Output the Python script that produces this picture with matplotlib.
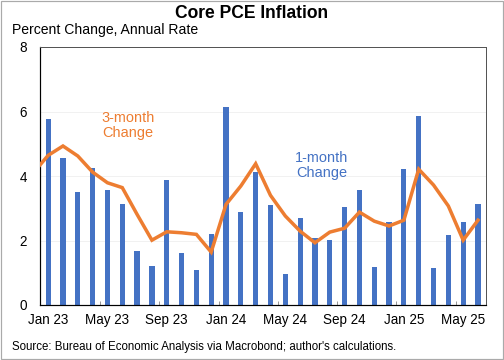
"""
Core PCE inflation: 1-month and 3-month annualized changes
"""
import numpy as np
import matplotlib
matplotlib.use("Agg")
import matplotlib.pyplot as plt
from matplotlib.ticker import FixedLocator

plt.rcParams['font.family'] = ['Liberation Sans', 'DejaVu Sans']

# monthly data, Jan 2023 - Jun 2025
months = ['Jan 23', 'Feb 23', 'Mar 23', 'Apr 23', 'May 23', 'Jun 23', 'Jul 23', 'Aug 23',
          'Sep 23', 'Oct 23', 'Nov 23', 'Dec 23', 'Jan 24', 'Feb 24', 'Mar 24', 'Apr 24',
          'May 24', 'Jun 24', 'Jul 24', 'Aug 24', 'Sep 24', 'Oct 24', 'Nov 24', 'Dec 24',
          'Jan 25', 'Feb 25', 'Mar 25', 'Apr 25', 'May 25', 'Jun 25']
one_month = [5.78, 4.55, 3.51, 4.24, 3.57, 3.13, 1.67, 1.21, 3.89, 1.60, 1.09, 2.19,
             6.14, 2.89, 4.12, 3.10, 0.96, 2.69, 2.08, 2.01, 3.04, 3.57, 1.17, 2.58,
             4.21, 5.86, 1.14, 2.17, 2.58, 3.12]
# 3-month series starts one month earlier (Dec 22), clipped at the left edge
three_month = [4.10, 4.64, 4.93, 4.62, 4.12, 3.79, 3.64, 2.81, 2.01, 2.27, 2.24, 2.19, 1.64,
               3.12, 3.69, 4.38, 3.40, 2.76, 2.29, 1.93, 2.26, 2.38, 2.88, 2.60, 2.45,
               2.63, 4.21, 3.72, 3.07, 2.01, 2.63]
tick_labels = ['Jan 23', 'May 23', 'Sep 23', 'Jan 24', 'May 24', 'Sep 24', 'Jan 25', 'May 25']

blue = '#4472C4'
orange = '#ED7D31'

fig = plt.figure(figsize=(7, 5), dpi=72, facecolor='w')
ax = fig.add_axes([40 / 504, 55 / 360, 446 / 504, 258 / 360])

x = np.arange(len(months))
ax.bar(x, one_month, width=0.35, color=blue, zorder=2)
ax.plot(np.arange(-1, len(months)), three_month, color=orange, lw=3.5,
        solid_joinstyle='miter', zorder=3)

ax.set_xlim(-0.55, len(months) - 0.46)
ax.set_ylim(0, 8)
ax.set_yticks([0, 2, 4, 6, 8])
ax.grid(axis='y', color='#eeeeee', lw=0.8, zorder=0)

ax.set_xticks([months.index(t) for t in tick_labels])
ax.set_xticklabels(tick_labels)
ax.xaxis.set_minor_locator(FixedLocator(np.arange(3.5, len(months), 4)))
ax.tick_params(axis='x', which='major', length=0, pad=8, labelsize=13.5)
ax.tick_params(axis='x', which='minor', length=4, direction='in', color='#555555')
ax.tick_params(axis='y', length=0, pad=13, labelsize=13.5)

for side in ['left', 'bottom']:
    ax.spines[side].set_color('black')
    ax.spines[side].set_linewidth(1.2)
for side in ['top', 'right']:
    ax.spines[side].set_color('#555555')
    ax.spines[side].set_linewidth(1.0)

ax.text(5.4, 5.57, '3-month\nChange', color=orange, fontsize=14.5, ha='center',
        va='center', linespacing=1.05)
ax.text(18.45, 4.33, '1-month\nChange', color=blue, fontsize=14.5, ha='center',
        va='center', linespacing=1.05)

fig.text(0.5, 1 - 13 / 360, 'Core PCE Inflation', fontsize=17.5, fontweight='bold',
         ha='center', va='center')
fig.text(12 / 504, 1 - 30 / 360, 'Percent Change, Annual Rate', fontsize=14,
         ha='left', va='center')
fig.text(12 / 504, 1 - 347 / 360,
         "Source: Bureau of Economic Analysis via Macrobond; author's calculations.",
         fontsize=11.5, ha='left', va='center')

# thin grey frame around the whole picture
fig.patches.append(plt.Rectangle((0.002, 0.003), 0.996, 0.994, transform=fig.transFigure,
                                 fill=False, edgecolor='#aaaaaa', lw=1.2))

plt.savefig('out.png', dpi=72)
